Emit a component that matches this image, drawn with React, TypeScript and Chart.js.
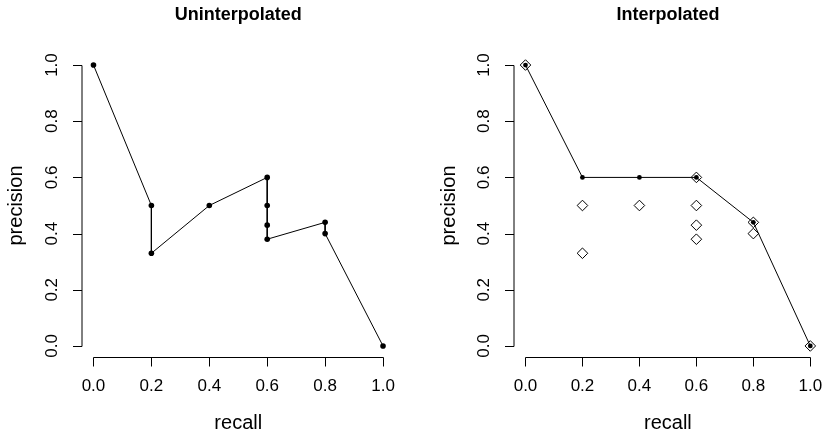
import React, { useEffect, useRef } from "react";
import { Chart, registerables } from "chart.js";

Chart.register(...registerables);

// Ranked retrieval results: recall / precision at each rank
const recallValues = [0, 0.2, 0.2, 0.4, 0.6, 0.6, 0.6, 0.6, 0.8, 0.8, 1.0];
const precisionValues = [1.0, 0.5, 0.33, 0.5, 0.6, 0.5, 0.43, 0.38, 0.44, 0.4, 0.0];

// Interpolated precision at each distinct recall level
const interpRecall = [0, 0.2, 0.4, 0.6, 0.8, 1.0];
const interpPrecision = [1.0, 0.6, 0.6, 0.6, 0.44, 0.0];

const tickValues = [0, 0.2, 0.4, 0.6, 0.8, 1.0];
const tickLabels = ["0.0", "0.2", "0.4", "0.6", "0.8", "1.0"];

const FONT = '"Liberation Sans", Arial, Helvetica, sans-serif';

function toPoints(xs: number[], ys: number[]) {
  return xs.map((x, i) => ({ x, y: ys[i] }));
}

function makeAxesPlugin(title: string) {
  return {
    id: "rAxes",
    afterDraw(chart: any) {
      const ctx = chart.ctx;
      const xs = chart.scales.x;
      const ys = chart.scales.y;
      const area = chart.chartArea;
      ctx.save();
      ctx.strokeStyle = "#000";
      ctx.fillStyle = "#000";
      ctx.lineWidth = 1;
      // y axis
      const ax = Math.round(area.left);
      const y0 = ys.getPixelForValue(tickValues[0]);
      const y1 = ys.getPixelForValue(tickValues[tickValues.length - 1]);
      ctx.beginPath();
      ctx.moveTo(ax, Math.round(y0) + 0.5);
      ctx.lineTo(ax, Math.round(y1) + 0.5);
      ctx.stroke();
      ctx.beginPath();
      tickValues.forEach((v) => {
        const py = Math.round(ys.getPixelForValue(v)) + 0.5;
        ctx.moveTo(ax, py);
        ctx.lineTo(ax - 9, py);
      });
      ctx.stroke();
      // x axis
      const ay = Math.round(area.bottom) + 0.5;
      const x0 = xs.getPixelForValue(tickValues[0]);
      const x1 = xs.getPixelForValue(tickValues[tickValues.length - 1]);
      ctx.beginPath();
      ctx.moveTo(Math.round(x0) + 0.5, ay);
      ctx.lineTo(Math.round(x1) + 0.5, ay);
      tickValues.forEach((v) => {
        const px = Math.round(xs.getPixelForValue(v)) + 0.5;
        ctx.moveTo(px, ay);
        ctx.lineTo(px, ay + 9);
      });
      ctx.stroke();
      // tick labels
      ctx.font = `17px ${FONT}`;
      ctx.textAlign = "center";
      ctx.textBaseline = "middle";
      tickValues.forEach((v, i) => {
        const px = xs.getPixelForValue(v);
        ctx.fillText(tickLabels[i], px, area.bottom + 29);
      });
      tickValues.forEach((v, i) => {
        const py = ys.getPixelForValue(v);
        ctx.save();
        ctx.translate(area.left - 30, py);
        ctx.rotate(-Math.PI / 2);
        ctx.fillText(tickLabels[i], 0, 0);
        ctx.restore();
      });
      // axis titles
      const cx = (area.left + area.right) / 2;
      const cy = (area.top + area.bottom) / 2;
      ctx.font = `20px ${FONT}`;
      ctx.fillText("recall", cx, area.bottom + 66);
      ctx.save();
      ctx.translate(area.left - 65, cy);
      ctx.rotate(-Math.PI / 2);
      ctx.fillText("precision", 0, 0);
      ctx.restore();
      // main title
      ctx.font = `bold 18px ${FONT}`;
      ctx.fillText(title, cx, 15);
      ctx.restore();
    },
  };
}

function Panel(props: { kind: "raw" | "interp"; left: number; padLeft: number; padRight: number }) {
  const ref = useRef<HTMLCanvasElement | null>(null);
  useEffect(() => {
    if (!ref.current) return;
    const raw = props.kind === "raw";
    const datasets: any[] = raw
      ? [
          {
            data: toPoints(recallValues, precisionValues),
            showLine: true,
            borderColor: "#000",
            borderWidth: 1,
            backgroundColor: "#000",
            pointRadius: 2.8,
            pointBorderWidth: 0,
            pointBackgroundColor: "#000",
          },
        ]
      : [
          {
            data: toPoints(interpRecall, interpPrecision),
            showLine: true,
            borderColor: "#000",
            borderWidth: 1,
            backgroundColor: "#000",
            pointRadius: 2.4,
            pointBorderWidth: 0,
            pointBackgroundColor: "#000",
          },
          {
            data: toPoints(recallValues, precisionValues),
            showLine: false,
            pointStyle: "rectRot",
            pointRadius: 5.3,
            pointBorderWidth: 1,
            pointBorderColor: "#000",
            pointBackgroundColor: "rgba(0,0,0,0)",
          },
        ];
    const chart = new Chart(ref.current, {
      type: "scatter",
      data: { datasets },
      options: {
        animation: false,
        responsive: false,
        maintainAspectRatio: false,
        layout: {
          padding: { left: props.padLeft, right: props.padRight, top: 53.8, bottom: 78.8 },
        },
        plugins: { legend: { display: false }, tooltip: { enabled: false }, title: { display: false } },
        scales: {
          x: { type: "linear", min: -0.04, max: 1.04, display: false },
          y: { type: "linear", min: -0.04, max: 1.04, display: false },
        },
      },
      plugins: [makeAxesPlugin(raw ? "Uninterpolated" : "Interpolated")],
    });
    return () => chart.destroy();
  }, []);
  return (
    <canvas
      ref={ref}
      width={414}
      height={436}
      style={{ position: "absolute", left: props.left, top: 0, width: 414, height: 436 }}
    />
  );
}

export default function App() {
  return (
    <div style={{ position: "fixed", left: 0, top: 0, width: 828, height: 436, background: "#fff" }}>
      <Panel kind="raw" left={0} padLeft={81.9} padRight={19.4} />
      <Panel kind="interp" left={414} padLeft={100.1} padRight={1.4} />
    </div>
  );
}
